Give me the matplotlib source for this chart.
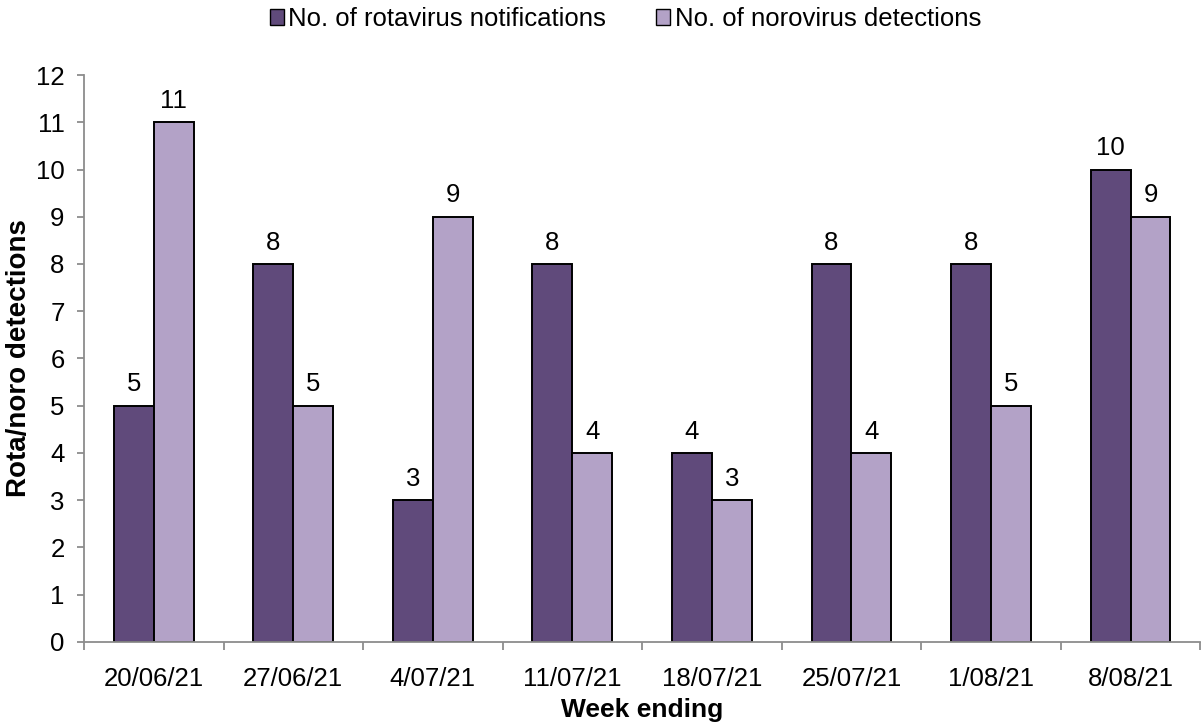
import numpy as np
import matplotlib.pyplot as plt
from matplotlib.patches import Patch

weeks = ["20/06/21", "27/06/21", "4/07/21", "11/07/21", "18/07/21", "25/07/21", "1/08/21", "8/08/21"]
rota = [5, 8, 3, 8, 4, 8, 8, 10]
noro = [11, 5, 9, 4, 3, 4, 5, 9]

dark = "#604a7b"
light = "#b3a2c7"
grey = "#8c8c8c"

plt.rcParams['font.family'] = ['Liberation Sans', 'DejaVu Sans']
fs = 18.5

fig = plt.figure(figsize=(12.03, 7.24), dpi=100)
ax = fig.add_axes([0.0698, 0.1133, 0.928, 0.7831])

x = np.arange(len(weeks))
w = 0.286
b1 = ax.bar(x - w/2, rota, w, color=dark, edgecolor="black", linewidth=1.4)
b2 = ax.bar(x + w/2, noro, w, color=light, edgecolor="black", linewidth=1.4)

# value labels above each bar
for bars in (b1, b2):
    for r in bars:
        ax.text(r.get_x() + r.get_width()/2, r.get_height() + 0.2, str(int(r.get_height())),
                ha="center", va="bottom", fontsize=fs)

ax.set_xlim(-0.5, len(weeks) - 0.5)
ax.set_ylim(0, 12)
ax.set_yticks(range(0, 13))
ax.set_xticks(x)
ax.set_xticklabels(weeks)
ax.set_xticks(np.arange(-0.5, len(weeks)), minor=True)
ax.tick_params(axis="x", which="major", length=0, pad=18, labelsize=fs)
ax.tick_params(axis="x", which="minor", length=6, color=grey, width=1.3)
ax.tick_params(axis="y", length=5, color=grey, width=1.3, labelsize=fs, pad=9)

for s in ("top", "right"):
    ax.spines[s].set_visible(False)
for s in ("left", "bottom"):
    ax.spines[s].set_color(grey)
    ax.spines[s].set_linewidth(1.3)

ax.set_xlabel("Week ending", fontsize=19, fontweight="bold", labelpad=5)
ax.set_ylabel("Rota/noro detections", fontsize=20, fontweight="bold", labelpad=3)

handles = [Patch(facecolor=dark, edgecolor="black"), Patch(facecolor=light, edgecolor="black")]
fig.legend(handles, ["No. of rotavirus notifications", "No. of norovirus detections"],
           loc="upper center", bbox_to_anchor=(0.52, 1.022), ncol=2, frameon=False, fontsize=fs,
           handlelength=0.55, handleheight=0.55, handletextpad=0.16, columnspacing=1.95)

fig.savefig("out.png", dpi=100)
